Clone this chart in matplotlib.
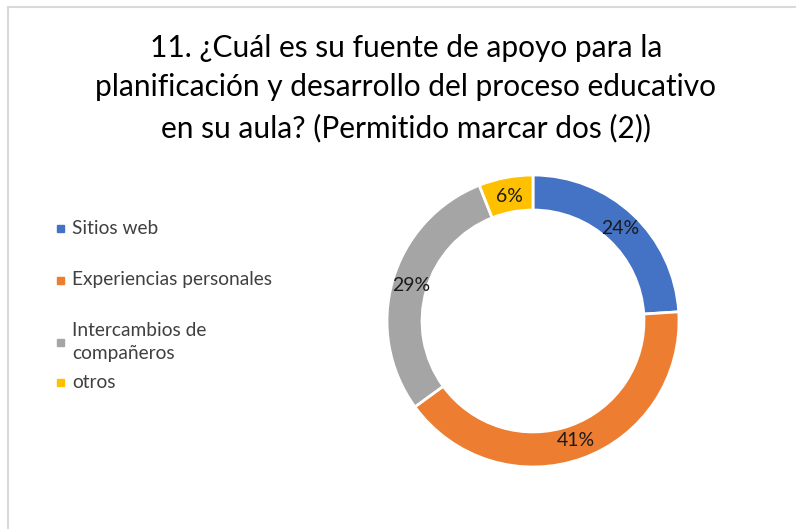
import matplotlib.pyplot as plt
from matplotlib.lines import Line2D
from matplotlib.patches import Rectangle

plt.rcParams['font.family'] = ['Lato', 'DejaVu Sans']

categorias = ["Sitios web", "Experiencias personales", "Intercambios de\ncompañeros", "otros"]
porcentajes = [24, 41, 29, 6]
colores = ["#4472C4", "#ED7D31", "#A5A5A5", "#FFC000"]
titulo = ("11. ¿Cuál es su fuente de apoyo para la\n"
          "planificación y desarrollo del proceso educativo\n"
          "en su aula? (Permitido marcar dos (2))")

W, H = 796, 529
fig = plt.figure(figsize=(W / 100, H / 100), dpi=100)

# borde del área del gráfico (solo se ve arriba y a la izquierda)
fig.add_artist(Line2D([8 / W, 1], [1 - 7 / H, 1 - 7 / H], color="#D9D9D9", lw=1.5))
fig.add_artist(Line2D([8 / W, 8 / W], [0, 1 - 7 / H], color="#D9D9D9", lw=1.5))

fig.text(0.51, 1 - 88 / H, titulo, ha="center", va="center", fontsize=21.5,
         color="#000000", linespacing=1.5)

# dona
cx, cy, r = 533, 321, 146
ax = fig.add_axes([(cx - r) / W, (H - cy - r) / H, 2 * r / W, 2 * r / H])
wedges, textos, autotextos = ax.pie(
    porcentajes, colors=colores, startangle=90, counterclock=False,
    autopct=lambda p: f"{p:.0f}%", pctdistance=0.87,
    wedgeprops=dict(width=0.24, edgecolor="white", linewidth=2),
    textprops=dict(fontsize=14, color="#1a1a1a"))
ax.set_xlim(-1, 1)
ax.set_ylim(-1, 1)
ax.set_aspect("equal")

# leyenda manual (Excel reparte las entradas de forma irregular)
ley_y = [228, 280, 342, 382]
for cat, col, y in zip(categorias, colores, ley_y):
    fig.add_artist(Rectangle(((57) / W, 1 - (y + 3.5) / H), 7 / W, 7 / H,
                             color=col, transform=fig.transFigure))
    fig.text(72 / W, 1 - y / H, cat, ha="left", va="center", fontsize=13.8,
             color="#404040", linespacing=1.45)

fig.savefig("out.png", dpi=100)
